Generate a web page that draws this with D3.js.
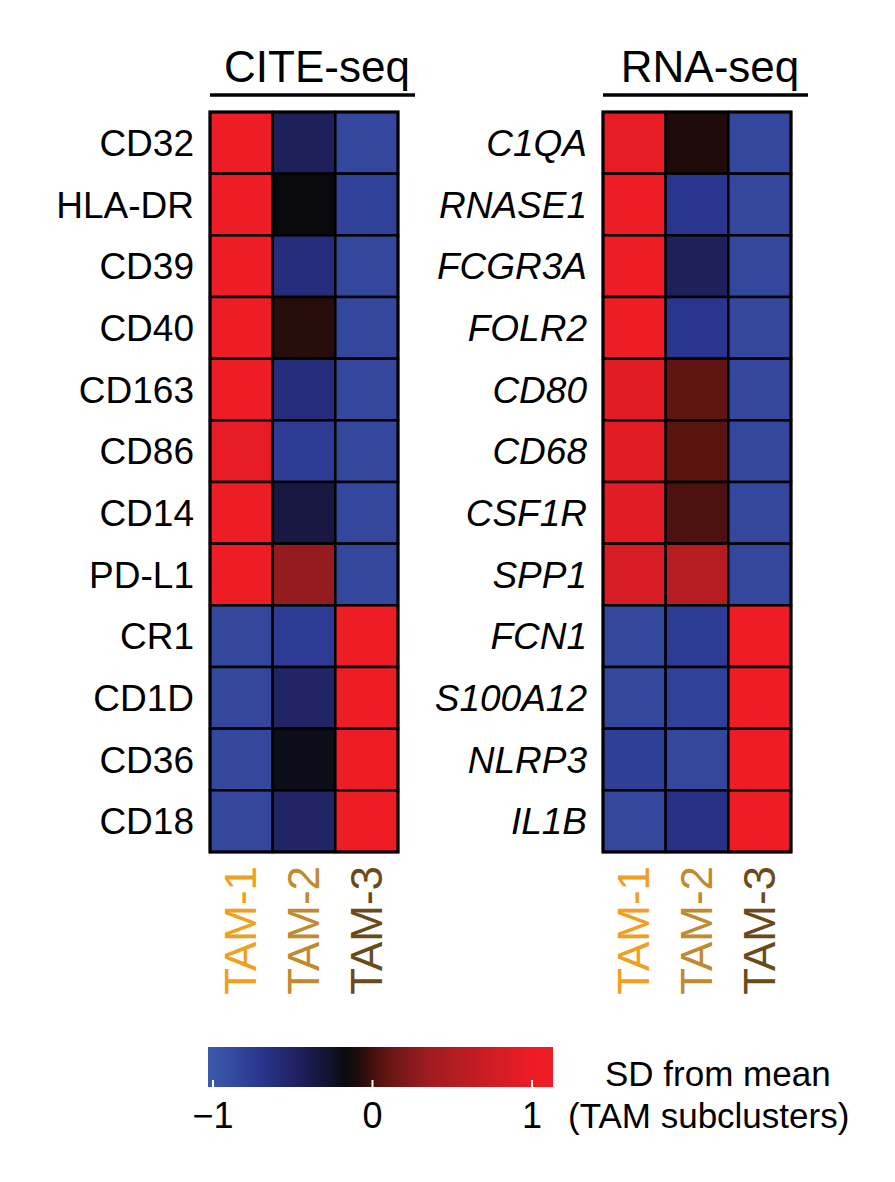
<!DOCTYPE html>
<head>
  <meta charset="utf-8">
  <style>
    body { margin: 0; background: #fff; }
    text { font-family: 'Liberation Sans', Arial, sans-serif; }
  </style>
</head>
<body>
  <script src="https://cdn.jsdelivr.net/npm/d3@7"></script>
  <script>
    // data
    const clusters = ["TAM-1", "TAM-2", "TAM-3"];
    const clusterColors = ["#f0a020", "#c08a30", "#6b4a1a"];
    const citeGenes = ["CD32","HLA-DR","CD39","CD40","CD163","CD86","CD14","PD-L1","CR1","CD1D","CD36","CD18"];
    const citeValues = [
      [1, -0.45, -0.85], [1, -0.15, -0.8], [1, -0.6, -0.85], [1, -0.07, -0.85],
      [1, -0.6, -0.85], [0.95, -0.75, -0.85], [1, -0.35, -0.85], [1, 0.3, -0.85],
      [-0.85, -0.75, 1], [-0.85, -0.5, 1], [-0.85, -0.2, 1], [-0.85, -0.5, 1]
    ];
    const rnaGenes = ["C1QA","RNASE1","FCGR3A","FOLR2","CD80","CD68","CSF1R","SPP1","FCN1","S100A12","NLRP3","IL1B"];
    const rnaValues = [
      [0.95, -0.09, -0.85], [1, -0.7, -0.85], [1, -0.45, -0.85], [1, -0.7, -0.85],
      [0.9, 0.08, -0.85], [0.9, 0.05, -0.85], [0.9, 0.02, -0.85], [0.8, 0.55, -0.85],
      [-0.85, -0.75, 1], [-0.85, -0.8, 1], [-0.78, -0.85, 1], [-0.85, -0.65, 1]
    ];
    const legendTicks = [-1, 0, 1];

    const width = 895, height = 1182;
    const color = d3.scaleLinear()
      .domain([-1, -0.7, -0.4, -0.14, 0.05, 0.35, 1])
      .range(["#3b58aa", "#2a3590", "#1c1c50", "#080808", "#5a1410", "#a01c22", "#ee1c25"])
      .clamp(true);

    const svg = d3.select("body").append("svg")
      .attr("width", width).attr("height", height);

    const mapTop = 112, mapBottom = 852;

    function heatmap(x0, x1, title, genes, values, italic) {
      const g = svg.append("g");
      const xs = d3.scaleBand().domain(clusters).range([x0, x1]);
      const ys = d3.scaleBand().domain(genes).range([mapTop, mapBottom]);
      genes.forEach((gene, i) => {
        g.selectAll(null).data(values[i]).enter().append("rect")
          .attr("x", (d, j) => xs(clusters[j]))
          .attr("y", ys(gene))
          .attr("width", xs.bandwidth())
          .attr("height", ys.bandwidth())
          .attr("fill", d => color(d))
          .attr("stroke", "#000").attr("stroke-width", 2.5);
      });
      g.append("rect").attr("x", x0).attr("y", mapTop)
        .attr("width", x1 - x0).attr("height", mapBottom - mapTop)
        .attr("fill", "none").attr("stroke", "#000").attr("stroke-width", 3);
      g.selectAll(".gl").data(genes).enter().append("text")
        .attr("x", x0 - 16)
        .attr("y", d => ys(d) + ys.bandwidth() / 2)
        .attr("dy", "0.36em")
        .attr("text-anchor", "end")
        .attr("font-size", 37)
        .attr("font-style", italic ? "italic" : "normal")
        .text(d => d);
      g.selectAll(".cl").data(clusters).enter().append("text")
        .attr("transform", d => "translate(" + (xs(d) + xs.bandwidth() / 2 + 15) + "," + (mapBottom + 14) + ") rotate(-90)")
        .attr("text-anchor", "end")
        .attr("font-size", 44)
        .attr("fill", (d, i) => clusterColors[i])
        .text(d => d);
      const cx = (x0 + x1) / 2 + 13;
      g.append("text").attr("x", cx).attr("y", 82)
        .attr("text-anchor", "middle").attr("font-size", 44).text(title);
      g.append("line").attr("x1", x0).attr("x2", x1 + 17)
        .attr("y1", 95).attr("y2", 95)
        .attr("stroke", "#000").attr("stroke-width", 3.5);
    }

    heatmap(210, 398, "CITE-seq", citeGenes, citeValues, false);
    heatmap(603, 791, "RNA-seq", rnaGenes, rnaValues, true);

    // colour legend
    const lx = d3.scaleLinear().domain([-1, 1]).range([213, 532]);
    const defs = svg.append("defs");
    const grad = defs.append("linearGradient").attr("id", "cb");
    const vmin = lx.invert(208), vmax = lx.invert(553);
    d3.range(0, 1.0001, 0.04).forEach(t => {
      grad.append("stop").attr("offset", t)
        .attr("stop-color", color(vmin + t * (vmax - vmin)));
    });
    svg.append("rect").attr("x", 208).attr("y", 1047)
      .attr("width", 553 - 208).attr("height", 40).attr("fill", "url(#cb)");
    svg.selectAll(".tk").data(legendTicks).enter().append("line")
      .attr("x1", d => lx(d)).attr("x2", d => lx(d))
      .attr("y1", 1080).attr("y2", 1087)
      .attr("stroke", "#fff").attr("stroke-width", 2);
    svg.selectAll(".tl").data(legendTicks).enter().append("text")
      .attr("x", d => lx(d)).attr("y", 1128)
      .attr("text-anchor", "middle").attr("font-size", 36)
      .text(d => d < 0 ? "\u2212" + Math.abs(d) : d);
    svg.append("text").attr("x", 605).attr("y", 1086)
      .attr("font-size", 35).text("SD from mean");
    svg.append("text").attr("x", 568).attr("y", 1128)
      .attr("font-size", 35).text("(TAM subclusters)");
  </script>
</body>
